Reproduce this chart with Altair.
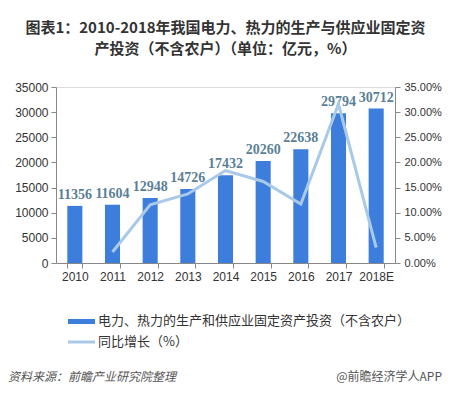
import altair as alt
import pandas as pd

years = ["2010", "2011", "2012", "2013", "2014", "2015", "2016", "2017", "2018E"]
investment = [11356, 11604, 12948, 14726, 17432, 20260, 22638, 29794, 30712]
growth = [None, 2.18, 11.58, 13.73, 18.38, 16.22, 11.74, 31.61, 3.08]

title_lines = ["图表1：2010-2018年我国电力、热力的生产与供应业固定资",
               "产投资（不含农户）（单位：亿元，%）"]
legend_bar = "电力、热力的生产和供应业固定资产投资（不含农户）"
legend_line = "同比增长（%）"
source_text = "资料来源：前瞻产业研究院整理"
brand_text = "@前瞻经济学人APP"

df = pd.DataFrame({"year": years, "inv": investment, "growth": growth})

BAR = "#3d7ddb"
LINE = "#a9c9e8"
LABEL = "#5b7f96"
AXIS = "#888888"
CJK = "Noto Sans CJK SC"

xenc = alt.X("year:N", sort=years, title=None,
             scale=alt.Scale(paddingInner=0.6, paddingOuter=0.3),
             axis=alt.Axis(labelAngle=0, tickBand="extent", labelFont="Liberation Sans",
                           labelFontSize=12, labelColor="#333", domainColor=AXIS,
                           tickColor=AXIS, tickSize=5, labelPadding=3))

yleft = alt.Y("inv:Q", title=None,
              scale=alt.Scale(domain=[0, 35000]),
              axis=alt.Axis(values=list(range(0, 35001, 5000)), grid=False, format="d",
                            labelOverlap=False,
                            labelFont="Liberation Sans", labelFontSize=12, labelColor="#333",
                            domainColor=AXIS, tickColor=AXIS, tickSize=5, labelPadding=3))

bars = alt.Chart(df).mark_bar(color=BAR).encode(x=xenc, y=yleft)

labels = alt.Chart(df).mark_text(font="Liberation Serif", fontWeight="bold", fontSize=14,
                                 color=LABEL, baseline="middle", dy=-11).encode(
    x=xenc,
    y=yleft,
    text=alt.Text("inv:Q", format="d"),
)

left = alt.layer(bars, labels)

line = alt.Chart(df).transform_filter("datum.growth != null").mark_line(
    color=LINE, strokeWidth=3).encode(
    x=xenc,
    y=alt.Y("growth:Q", title=None,
            scale=alt.Scale(domain=[0, 35]),
            axis=alt.Axis(orient="right", values=list(range(0, 36, 5)), grid=False,
                          labelOverlap=False,
                          labelExpr="format(datum.value, '.2f') + '%'",
                          labelFont="Liberation Sans", labelFontSize=11, labelColor="#333",
                          domainColor=AXIS, tickColor=AXIS, tickSize=5, labelPadding=4)),
)

leg_df = pd.DataFrame({"t": [legend_bar]})
leg_bar_sw = alt.Chart(leg_df).mark_rect(color=BAR).encode(
    x=alt.value(12), x2=alt.value(39), y=alt.value(232), y2=alt.value(237))
leg_bar_tx = alt.Chart(leg_df).mark_text(align="left", baseline="middle", font=CJK,
                                         fontSize=13, color="#333").encode(
    x=alt.value(42), y=alt.value(234), text="t:N")
leg_df2 = pd.DataFrame({"t": [legend_line]})
leg_line_sw = alt.Chart(leg_df2).mark_rule(color=LINE, strokeWidth=3).encode(
    x=alt.value(12), x2=alt.value(39), y=alt.value(255))
leg_line_tx = alt.Chart(leg_df2).mark_text(align="left", baseline="middle", font=CJK,
                                           fontSize=13, color="#333").encode(
    x=alt.value(42), y=alt.value(255), text="t:N")

src_df = pd.DataFrame({"t": [source_text]})
src = alt.Chart(src_df).mark_text(align="left", baseline="middle", font=CJK, fontSize=12,
                                  fontStyle="italic", color="#555").encode(
    x=alt.value(-48), y=alt.value(290), text="t:N")
brand_df = pd.DataFrame({"t": [brand_text]})
brand = alt.Chart(brand_df).mark_text(align="right", baseline="middle", font=CJK,
                                      fontSize=12, color="#555").encode(
    x=alt.value(386), y=alt.value(290), text="t:N")

chart = alt.layer(left, line, leg_bar_sw, leg_bar_tx, leg_line_sw, leg_line_tx, src, brand).resolve_scale(
    y="independent"
).properties(
    width=339, height=176,
    title=alt.Title(title_lines, anchor="middle", font=CJK, fontSize=15, fontWeight="bold",
                    color="#333", lineHeight=21, offset=24),
    autosize=alt.AutoSizeParams(type="none"),
    padding={"left": 48, "top": 79, "right": 48, "bottom": 124},
).configure_view(stroke=None).configure(background="white")

chart.save("out.html", embed_options={"renderer": "svg", "actions": False})
